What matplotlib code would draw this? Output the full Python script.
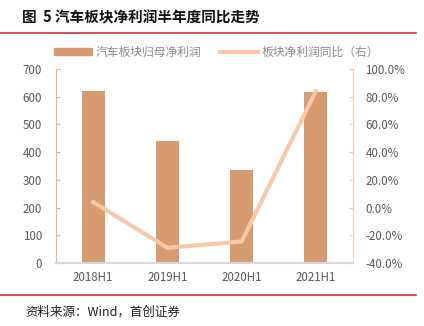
import matplotlib
matplotlib.use('Agg')
import matplotlib.pyplot as plt
from matplotlib.ticker import FuncFormatter
from matplotlib.lines import Line2D

plt.rcParams['font.family'] = ['Noto Sans CJK SC', 'DejaVu Sans']

# dane
categories = ['2018H1', '2019H1', '2020H1', '2021H1']
profit = [622, 441, 335, 618]          # 汽车板块归母净利润
yoy = [4.0, -29.0, -24.5, 84.0]        # 板块净利润同比 (%)

bar_color = '#D79B72'
line_color = '#F8C9A8'
text_gray = '#595959'

fig = plt.figure(figsize=(4.24, 3.26), dpi=100)
ax = fig.add_axes([56 / 424, 1 - 263 / 326, 297 / 424, 194 / 326])
ax2 = ax.twinx()

x = range(len(categories))
ax.bar(x, profit, width=0.31, color=bar_color, zorder=2)
ax2.plot(x, yoy, color=line_color, linewidth=3, zorder=3)

ax.set_xlim(-0.5, 3.5)
ax.set_ylim(0, 700)
ax.set_yticks(range(0, 701, 100))
ax2.set_ylim(-40, 100)
ax2.set_yticks(range(-40, 101, 20))
ax2.yaxis.set_major_formatter(FuncFormatter(lambda v, p: f'{v:.1f}%'))

ax.set_xticks(list(x))
ax.set_xticklabels(categories)

for a in (ax, ax2):
    a.spines['top'].set_visible(False)
    a.spines['left'].set_color('#F4B183')
    a.spines['right'].set_color('#F8CBAD')
    a.spines['bottom'].set_color('#D9D9D9')
    a.spines['bottom'].set_linewidth(1.5)
    a.tick_params(labelsize=8.3, labelcolor=text_gray)

ax.spines['right'].set_visible(False)
ax2.spines['left'].set_visible(False)
ax.tick_params(axis='y', direction='in', length=3, color='#F4B183', pad=10)
ax.tick_params(axis='x', length=0, pad=6)
ax2.tick_params(axis='y', direction='in', length=3, color='#F8CBAD', pad=9)

# legenda
handles = [plt.Rectangle((0, 0), 1, 1, color=bar_color),
           Line2D([], [], color=line_color, linewidth=3)]
fig.legend(handles, ['汽车板块归母净利润', '板块净利润同比（右）'],
           loc='center', bbox_to_anchor=(0.51, 1 - 52 / 326), ncol=2, frameon=False,
           fontsize=8.5, labelcolor='#8C8C8C', handlelength=3.2, handleheight=0.6,
           handletextpad=0.3, columnspacing=1.6)

# tytuł i linie
fig.text(22 / 424, 1 - 17 / 326, '图  5 汽车板块净利润半年度同比走势',
         fontsize=10.5, fontweight='bold', va='center', ha='left', color='#111111')
fig.add_artist(Line2D([0, 0.98], [1 - 33 / 326] * 2, color='#D03030', linewidth=1.2))
fig.add_artist(Line2D([0, 0.98], [1 - 295 / 326] * 2, color='#D03030', linewidth=1.2))
fig.text(25 / 424, 1 - 312 / 326, '资料来源：Wind，首创证券', fontsize=9,
         style='italic', va='center', ha='left', color='#222222')

plt.savefig('out.png', dpi=100)
